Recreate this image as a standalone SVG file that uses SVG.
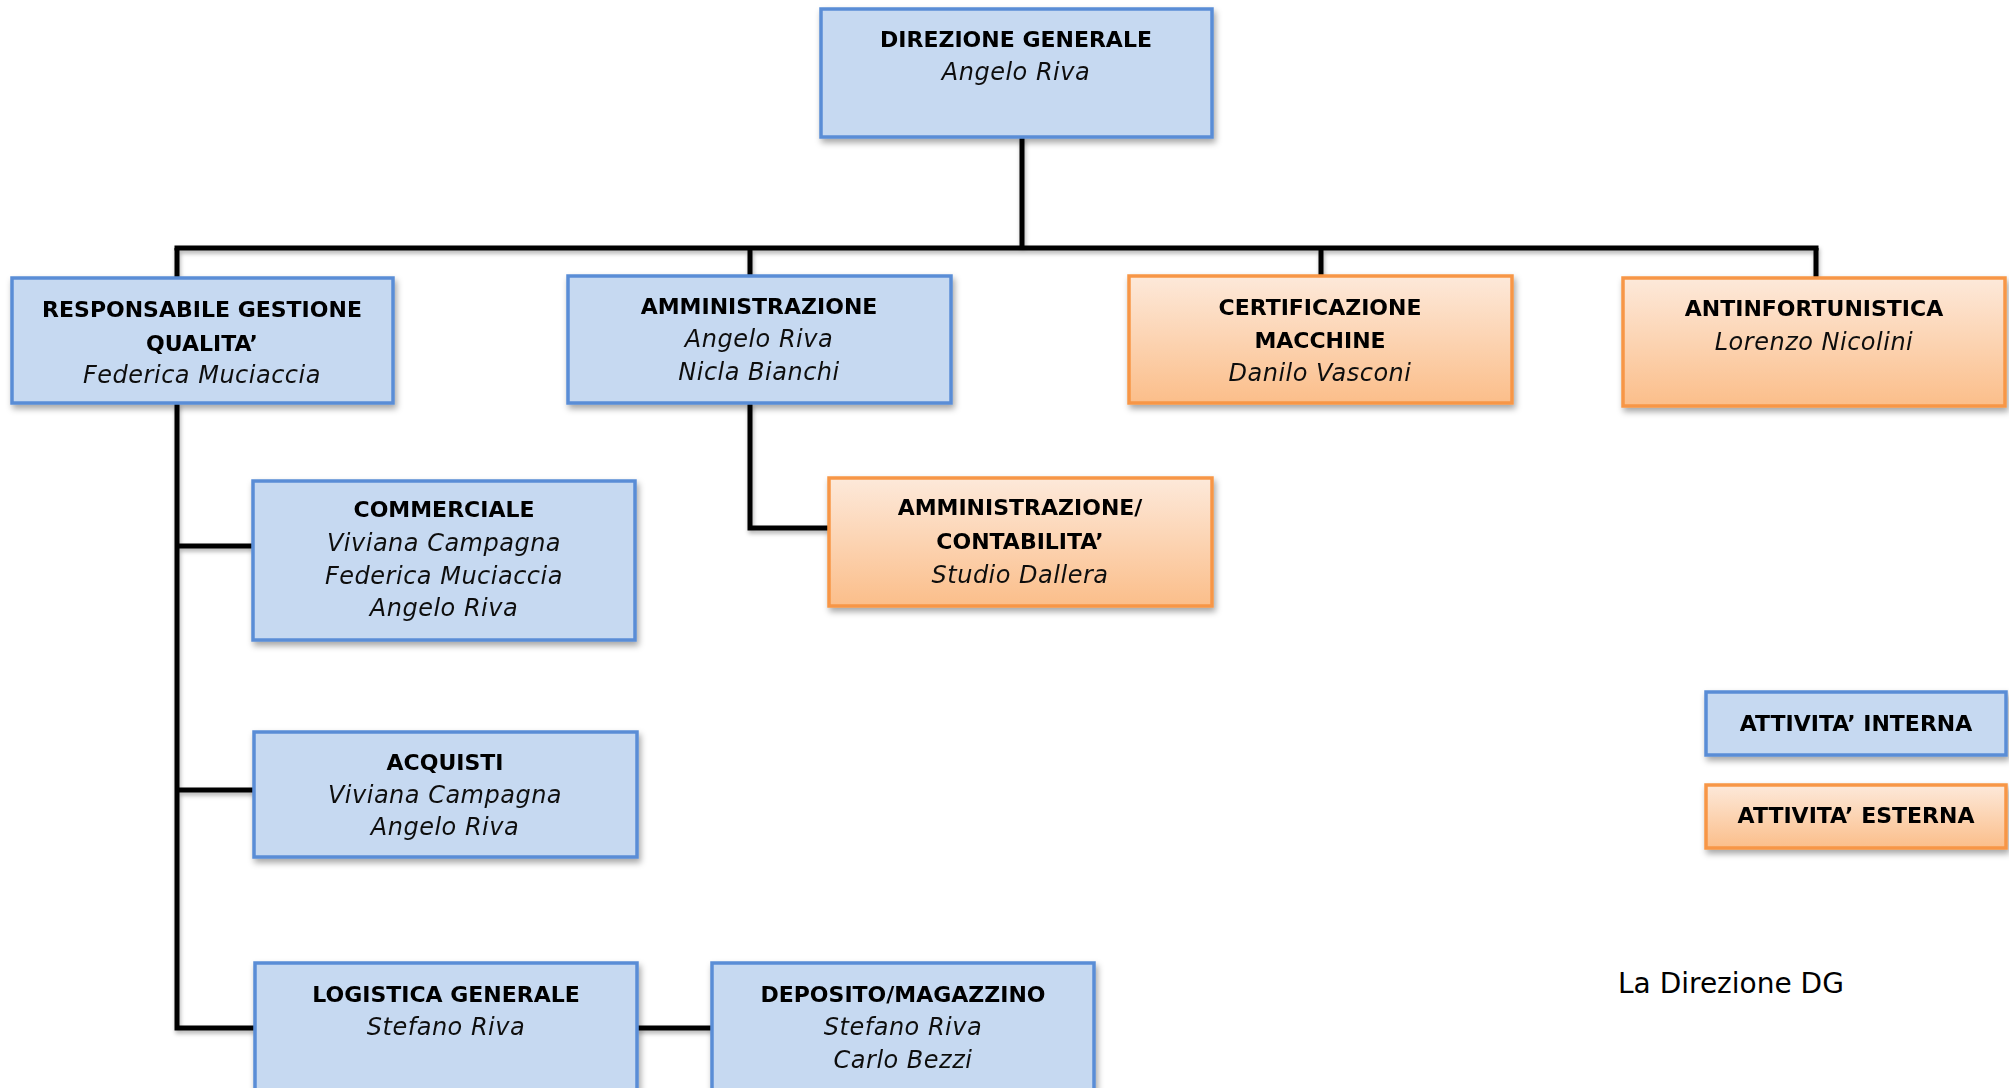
<svg xmlns="http://www.w3.org/2000/svg" width="2009" height="1088" viewBox="0 0 2009 1088">
<defs>
<style>
.blue{fill:#C6D9F1;stroke:#5A8DD6;stroke-width:3.5}
.orange{fill:url(#og);stroke:#F79646;stroke-width:3.5}
.t{font-family:"DejaVu Sans","Liberation Sans",sans-serif;font-weight:bold;font-size:22px;fill:#000;text-anchor:middle}
.n{font-family:"DejaVu Sans","Liberation Sans",sans-serif;font-style:italic;font-size:24px;letter-spacing:0.5px;fill:#111;text-anchor:middle}
.conn{fill:none;stroke:#000;stroke-width:5;stroke-linejoin:miter;stroke-linecap:butt}
</style>
<linearGradient id="og" x1="0" y1="0" x2="0" y2="1">
<stop offset="0" stop-color="#FDE9DA"/>
<stop offset="1" stop-color="#FBBE8A"/>
</linearGradient>
<filter id="sh" x="-10%" y="-10%" width="120%" height="130%">
<feDropShadow dx="2" dy="4" stdDeviation="3" flood-color="#000" flood-opacity="0.35"/>
</filter>
<filter id="lsh" x="-10%" y="-10%" width="120%" height="130%">
<feDropShadow dx="1" dy="3" stdDeviation="2" flood-color="#000" flood-opacity="0.3"/>
</filter>
</defs>
<rect width="2009" height="1088" fill="#fff"/>
<g id="connectors" filter="url(#lsh)">
<path class="conn" d="M1022 137 V248"/>
<path class="conn" d="M174.5 248 H1818.5"/>
<path class="conn" d="M177 248 V278"/>
<path class="conn" d="M177 403 V1028 H255"/>
<path class="conn" d="M177 546 H253"/>
<path class="conn" d="M177 790 H254"/>
<path class="conn" d="M750 248 V276"/>
<path class="conn" d="M750 403 V528 H829"/>
<path class="conn" d="M1321 248 V276"/>
<path class="conn" d="M1816 248 V278"/>
<path class="conn" d="M637 1028 H712"/>
</g>
<g id="direzione-generale" filter="url(#sh)">
<rect class="blue" x="821" y="9" width="391" height="128"/>
<text class="t" x="1016" y="47">DIREZIONE GENERALE</text>
<text class="n" x="1016" y="80">Angelo Riva</text>
</g>
<g id="responsabile-qualita" filter="url(#sh)">
<rect class="blue" x="12" y="278" width="381" height="125"/>
<text class="t" x="202" y="317">RESPONSABILE GESTIONE</text>
<text class="t" x="202" y="351">QUALITA’</text>
<text class="n" x="202" y="383">Federica Muciaccia</text>
</g>
<g id="amministrazione" filter="url(#sh)">
<rect class="blue" x="568" y="276" width="383" height="127"/>
<text class="t" x="759" y="314">AMMINISTRAZIONE</text>
<text class="n" x="759" y="347">Angelo Riva</text>
<text class="n" x="759" y="380">Nicla Bianchi</text>
</g>
<g id="certificazione-macchine" filter="url(#sh)">
<rect class="orange" x="1129" y="276" width="383" height="127"/>
<text class="t" x="1320" y="315">CERTIFICAZIONE</text>
<text class="t" x="1320" y="348">MACCHINE</text>
<text class="n" x="1320" y="381">Danilo Vasconi</text>
</g>
<g id="antinfortunistica" filter="url(#sh)">
<rect class="orange" x="1623" y="278" width="382" height="128"/>
<text class="t" x="1814" y="316">ANTINFORTUNISTICA</text>
<text class="n" x="1814" y="350">Lorenzo Nicolini</text>
</g>
<g id="commerciale" filter="url(#sh)">
<rect class="blue" x="253" y="481" width="382" height="159"/>
<text class="t" x="444" y="517">COMMERCIALE</text>
<text class="n" x="444" y="551">Viviana Campagna</text>
<text class="n" x="444" y="584">Federica Muciaccia</text>
<text class="n" x="444" y="616">Angelo Riva</text>
</g>
<g id="amministrazione-contabilita" filter="url(#sh)">
<rect class="orange" x="829" y="478" width="383" height="128"/>
<text class="t" x="1020" y="515">AMMINISTRAZIONE/</text>
<text class="t" x="1020" y="549">CONTABILITA’</text>
<text class="n" x="1020" y="583">Studio Dallera</text>
</g>
<g id="acquisti" filter="url(#sh)">
<rect class="blue" x="254" y="732" width="383" height="125"/>
<text class="t" x="445" y="770">ACQUISTI</text>
<text class="n" x="445" y="803">Viviana Campagna</text>
<text class="n" x="445" y="835">Angelo Riva</text>
</g>
<g id="logistica-generale" filter="url(#sh)">
<rect class="blue" x="255" y="963" width="382" height="140"/>
<text class="t" x="446" y="1002">LOGISTICA GENERALE</text>
<text class="n" x="446" y="1035">Stefano Riva</text>
</g>
<g id="deposito-magazzino" filter="url(#sh)">
<rect class="blue" x="712" y="963" width="382" height="140"/>
<text class="t" x="903" y="1002">DEPOSITO/MAGAZZINO</text>
<text class="n" x="903" y="1035">Stefano Riva</text>
<text class="n" x="903" y="1068">Carlo Bezzi</text>
</g>
<g id="legenda-interna" filter="url(#sh)">
<rect class="blue" x="1706" y="692" width="300" height="63"/>
<text class="t" x="1856" y="731">ATTIVITA’ INTERNA</text>
</g>
<g id="legenda-esterna" filter="url(#sh)">
<rect class="orange" x="1706" y="785" width="300" height="63"/>
<text class="t" x="1856" y="823">ATTIVITA’ ESTERNA</text>
</g>
<text x="1618" y="993" font-family="DejaVu Sans, Liberation Sans, sans-serif" font-size="28" fill="#000">La Direzione DG</text>
</svg>
